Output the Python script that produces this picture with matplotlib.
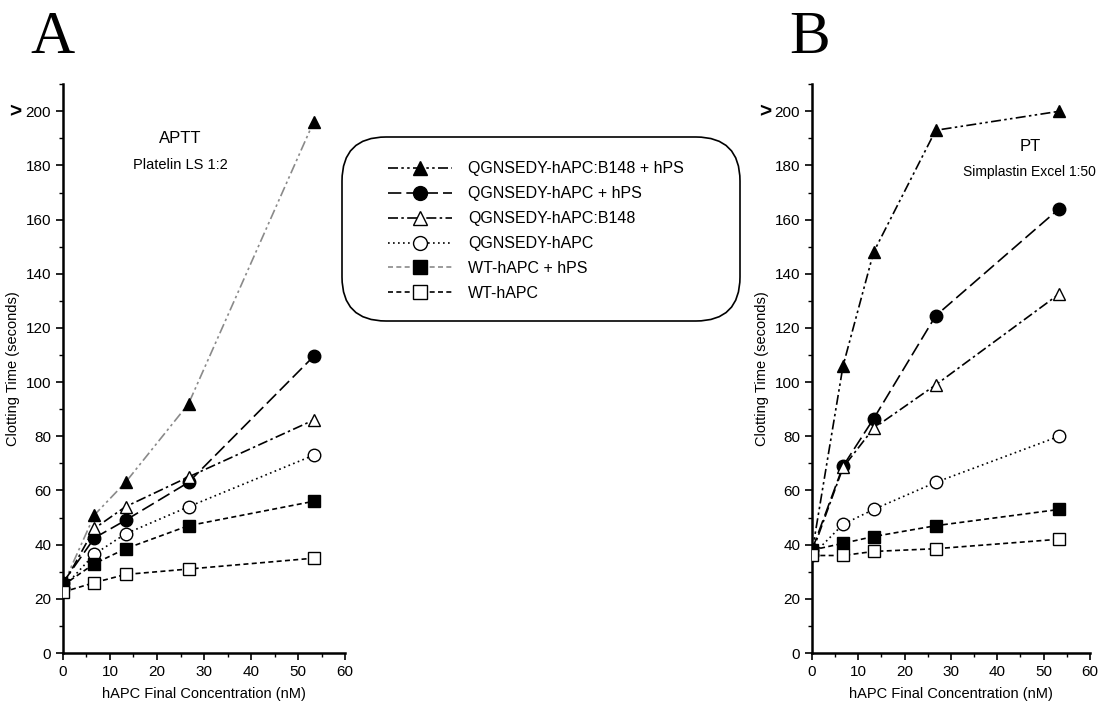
import matplotlib
matplotlib.use("Agg")
import matplotlib.pyplot as plt
from matplotlib.lines import Line2D
from matplotlib.patches import FancyBboxPatch
from matplotlib.ticker import MultipleLocator

plt.rcParams["font.family"] = ["Liberation Sans", "DejaVu Sans"]

# hAPC concentrations (nM)
conc = [0, 6.7, 13.3, 26.7, 53.3]

labels = [
    "QGNSEDY-hAPC:B148 + hPS",
    "QGNSEDY-hAPC + hPS",
    "QGNSEDY-hAPC:B148",
    "QGNSEDY-hAPC",
    "WT-hAPC + hPS",
    "WT-hAPC",
]

# Panel A - APTT
aptt_tri_f = [25, 51, 63, 92, 196]
aptt_circ_f = [26, 42.5, 49, 63, 109.5]
aptt_tri_o = [25, 46, 54, 65, 86]
aptt_circ_o = [24, 36.5, 44, 54, 73]
aptt_sq_f = [25, 33, 38.5, 47, 56]
aptt_sq_o = [22.5, 26, 29, 31, 35]

# Panel B - PT
pt_tri_f = [37, 106, 148, 193, 200]
pt_circ_f = [38, 69, 86.5, 124.5, 164]
pt_tri_o = [37, 68.5, 83, 99, 132.5]
pt_circ_o = [36, 47.5, 53, 63, 80]
pt_sq_f = [38, 40.5, 43, 47, 53]
pt_sq_o = [36, 36, 37.5, 38.5, 42]

# style per series: marker, fill, linestyle
styles = [
    ("^", "black", (0, (6, 2, 1.5, 2, 1.5, 2))),
    ("o", "black", (0, (8, 3))),
    ("^", "white", (0, (6, 2, 1.5, 2))),
    ("o", "white", (0, (1, 2))),
    ("s", "black", (0, (3, 2))),
    ("s", "white", (0, (3, 2))),
]

fig = plt.figure(figsize=(11.01, 7.02), dpi=100)
axA = fig.add_axes([0.0572, 0.0698, 0.2562, 0.8102])
axB = fig.add_axes([0.7375, 0.0698, 0.2525, 0.8102])


def draw_panel(ax, series, first_color):
    for i, (vals, (mk, fc, ls)) in enumerate(zip(series, styles)):
        col = first_color if i == 0 else "black"
        ax.plot(conc, vals, color=col, linestyle=ls, linewidth=1.2,
                marker=mk, markersize=9, markerfacecolor=fc,
                markeredgecolor="black", markeredgewidth=1.0, zorder=3 + i)
    ax.set_xlim(0, 60)
    ax.set_ylim(0, 210)
    ax.xaxis.set_major_locator(MultipleLocator(10))
    ax.xaxis.set_minor_locator(MultipleLocator(5))
    ax.yaxis.set_major_locator(MultipleLocator(20))
    ax.yaxis.set_minor_locator(MultipleLocator(10))
    ax.spines["top"].set_visible(False)
    ax.spines["right"].set_visible(False)
    ax.spines["left"].set_linewidth(1.8)
    ax.spines["bottom"].set_linewidth(1.8)
    ax.tick_params(which="major", direction="out", length=5, width=1.2, labelsize=11)
    ax.tick_params(which="minor", direction="out", length=3, width=1.0)
    ax.set_xlabel("hAPC Final Concentration (nM)", fontsize=10.5, labelpad=6)
    ax.set_ylabel("Clotting Time (seconds)", fontsize=10.5, labelpad=4)
    ax.text(-0.17, 200, ">", transform=ax.get_yaxis_transform(),
            fontsize=15, fontweight="bold", ha="center", va="center")


draw_panel(axA, [aptt_tri_f, aptt_circ_f, aptt_tri_o, aptt_circ_o, aptt_sq_f, aptt_sq_o], "#8a8a8a")
draw_panel(axB, [pt_tri_f, pt_circ_f, pt_tri_o, pt_circ_o, pt_sq_f, pt_sq_o], "black")

axA.text(25, 190, "APTT", fontsize=12, ha="center", va="center")
axA.text(25, 180, "Platelin LS 1:2", fontsize=10.5, ha="center", va="center")
axB.text(47, 187, "PT", fontsize=12, ha="center", va="center")
axB.text(47, 177.5, "Simplastin Excel 1:50", fontsize=10, ha="center", va="center")

fig.text(0.048, 0.945, "A", fontsize=44, family="Liberation Serif", ha="center", va="center")
fig.text(0.735, 0.945, "B", fontsize=44, family="Liberation Serif", ha="center", va="center")

# rounded legend box
box = FancyBboxPatch((342 / 1101, 1 - 321 / 702), 398 / 1101, 184 / 702,
                     boxstyle="round,pad=0,rounding_size=0.04",
                     transform=fig.transFigure, facecolor="white",
                     edgecolor="black", linewidth=1.2,
                     mutation_aspect=1101 / 702)
fig.patches.append(box)

handles = [Line2D([], [], color="black", linestyle=ls, linewidth=1.2, marker=mk,
                  markersize=10, markerfacecolor=fc, markeredgecolor="black")
           for mk, fc, ls in styles]
handles[4].set_color("#8a8a8a")
handles[4].set_markeredgecolor("black")
fig.legend(handles, labels, loc="upper left",
           bbox_to_anchor=(382 / 1101, 1 - 155 / 702), frameon=False,
           fontsize=11.5, handlelength=4, handletextpad=1.0, labelspacing=0.62,
           borderaxespad=0)

fig.savefig("out.png", dpi=100)
